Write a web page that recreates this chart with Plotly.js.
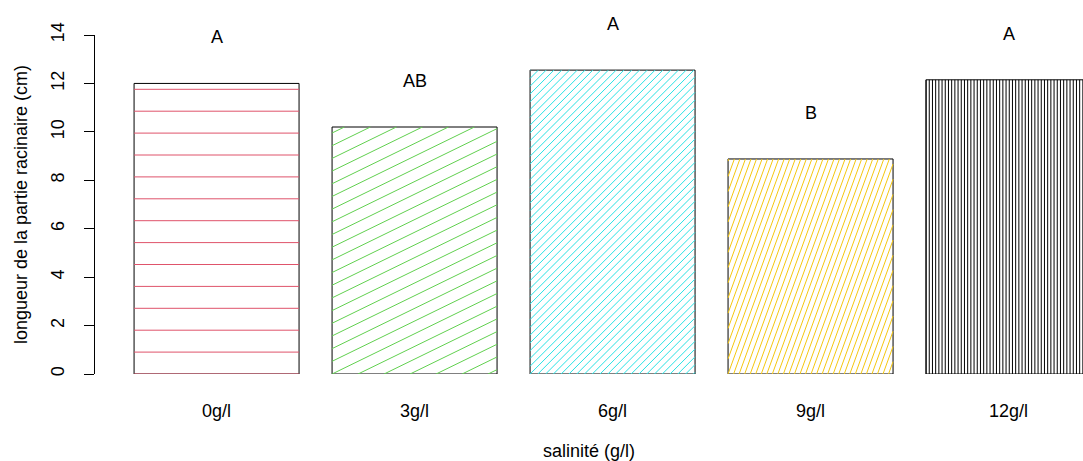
<!DOCTYPE html>
<html><head><meta charset="utf-8">
<script src="https://cdn.plot.ly/plotly-3.0.1.min.js"></script>
<style>html,body{margin:0;padding:0;background:#fff}</style></head>
<body>
<div id="chart" style="width:1083px;height:461px"></div>
<script>
// ---- data ----
const categories = ["0g/l", "3g/l", "6g/l", "9g/l", "12g/l"];
const values = [12.0, 10.2, 12.55, 8.88, 12.15];
const letters = ["A", "AB", "A", "B", "A"];
const yTicks = [0, 2, 4, 6, 8, 10, 12, 14];

// ---- styles ----
const hatchColors = ["#DF536B", "#61D04F", "#28E2E5", "#F5C710", "#000000"];
const hatchAngles = [0, 26, 45, 70, 90];      // degrees on screen
const hatchSpacing = [21.9, 11.4, 5.5, 5.2, 3.2]; // px between lines
const letterOffset = 1.9;
const barWidth = 0.8333;

const W = 1083, H = 461;
const margin = {l: 95, r: 0, t: 35, b: 87, pad: 0};
const xRange = [-0.614, 4.376];
const yRange = [0, 14];
const FONT = "Liberation Sans, Arial, sans-serif";
const FS = 18;

const plotW = W - margin.l - margin.r, plotH = H - margin.t - margin.b;
const sx = plotW / (xRange[1] - xRange[0]);
const sy = plotH / (yRange[1] - yRange[0]);

const xIdx = categories.map((c, i) => i);

function hatch(i) {
  const Wp = barWidth * sx, Hp = values[i] * sy;
  const th = hatchAngles[i] * Math.PI / 180;
  const u = [Math.cos(th), Math.sin(th)], n = [-Math.sin(th), Math.cos(th)];
  const d = hatchSpacing[i];
  const cs = [[0,0],[Wp,0],[0,Hp],[Wp,Hp]].map(p => n[0]*p[0] + n[1]*p[1]);
  const cmin = Math.min(...cs), cmax = Math.max(...cs);
  const x0 = xIdx[i] - barWidth / 2;
  const xs = [], ys = [];
  for (let k = Math.ceil(cmin / d); k * d <= cmax; k++) {
    const c = k * d;
    const p0 = [c * n[0], c * n[1]];
    let t0 = -Infinity, t1 = Infinity;
    [[0, Wp, 0], [0, Hp, 1]].forEach(([lo, hi, ax]) => {
      if (Math.abs(u[ax]) < 1e-9) {
        if (p0[ax] < lo - 1e-9 || p0[ax] > hi + 1e-9) { t0 = 1; t1 = 0; }
      } else {
        let a = (lo - p0[ax]) / u[ax], b = (hi - p0[ax]) / u[ax];
        if (a > b) [a, b] = [b, a];
        t0 = Math.max(t0, a); t1 = Math.min(t1, b);
      }
    });
    if (t1 - t0 < 0.5) continue;
    xs.push(x0 + (p0[0] + t0*u[0]) / sx, x0 + (p0[0] + t1*u[0]) / sx, null);
    ys.push((p0[1] + t0*u[1]) / sy, (p0[1] + t1*u[1]) / sy, null);
  }
  return {type: "scatter", mode: "lines", x: xs, y: ys,
          line: {color: hatchColors[i], width: 1}, hoverinfo: "skip", showlegend: false};
}

const traces = [{
  type: "bar", x: xIdx, y: values, width: barWidth,
  marker: {color: "#ffffff", line: {color: "#000000", width: 1}},
  showlegend: false, hoverinfo: "x+y"
}];
categories.forEach((c, i) => traces.push(hatch(i)));

// letters placed in paper units derived from the y axis range (may sit above the axis top)
const annotations = letters.map((t, i) => ({
  xref: "x", yref: "paper", x: xIdx[i],
  y: (values[i] + letterOffset - yRange[0]) / (yRange[1] - yRange[0]),
  text: t, showarrow: false, xanchor: "center", yanchor: "middle",
  font: {family: FONT, size: FS, color: "#000"}
}));

const layout = {
  width: W, height: H, margin: margin,
  paper_bgcolor: "#fff", plot_bgcolor: "#fff",
  font: {family: FONT, size: FS, color: "#000"},
  showlegend: false,
  annotations: annotations,
  xaxis: {
    range: xRange, tickvals: xIdx, ticktext: categories,
    showgrid: false, zeroline: false, showline: false,
    ticks: "outside", ticklen: 20, tickcolor: "rgba(0,0,0,0)",
    tickfont: {family: FONT, size: FS, color: "#000"},
    title: {text: "salinité (g/l)", font: {family: FONT, size: FS, color: "#000"}, standoff: 24},
    automargin: false, fixedrange: true
  },
  yaxis: {
    range: yRange, tickvals: yTicks,
    showgrid: false, zeroline: false, showline: true, linecolor: "#000", linewidth: 1,
    ticks: "outside", ticklen: 10, tickcolor: "#000", tickwidth: 1, tickangle: -90,
    ticklabelstandoff: 13,
    tickfont: {family: FONT, size: FS, color: "#000"},
    title: {text: "longueur de la partie racinaire (cm)", font: {family: FONT, size: FS, color: "#000"}, standoff: 15},
    automargin: false, fixedrange: true
  }
};

Plotly.newPlot("chart", traces, layout, {displayModeBar: false, staticPlot: true});
</script>
</body></html>
